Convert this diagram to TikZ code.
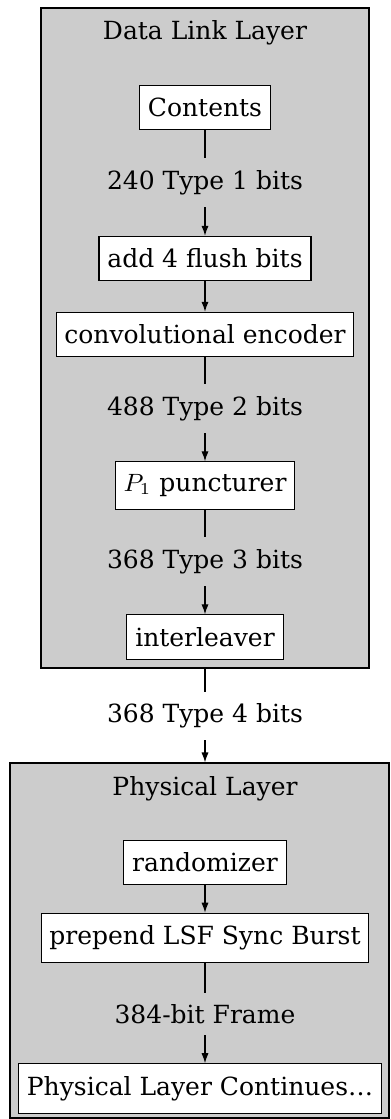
\documentclass[tikz,border=0pt]{standalone}
\usepackage{fontspec}
\setmainfont{DejaVu Serif}
\usetikzlibrary{arrows.meta}
\begin{document}
\begin{tikzpicture}[x=0.36pt,y=-0.36pt,
  every node/.style={font=\fontsize{9}{11}\selectfont},
  box/.style={draw, fill=white, inner xsep=3pt, inner ysep=4.5pt},
  lab/.style={inner sep=0pt},
  layer/.style={draw, fill=black!20, inner sep=0pt},
  conn/.style={draw, line width=0.45pt},
  arr/.style={conn, -{Latex[length=3.6pt,width=2.6pt]}}]
\useasboundingbox (0,0) rectangle (390,1119);
% layers
\node[layer, minimum width=328*0.36pt, minimum height=660*0.36pt] (dll) at (205,338) {};
\node[layer, minimum width=379*0.36pt, minimum height=355*0.36pt] (pl) at (199.5,940.5) {};
\node[anchor=base, inner sep=0pt] (dllt) at (205,39) {Data Link Layer};
\node[anchor=base, inner sep=0pt] (plt) at (205,795) {Physical Layer};
% boxes
\node[box] (contents) at (205,107.5) {Contents};
\node[lab] (l1) at (205,182.5) {240 Type 1 bits};
\node[box] (flush) at (205,258.5) {add 4 flush bits};
\node[box] (conv) at (205,334.5) {convolutional encoder};
\node[lab] (l2) at (205,408.5) {488 Type 2 bits};
\node[box] (punct) at (205,485.5) {$P_1$ puncturer};
\node[lab] (l3) at (205,561.5) {368 Type 3 bits};
\node[box] (inter) at (205,637) {interleaver};
\node[lab] (l4) at (205,716) {368 Type 4 bits};
\node[box] (rand) at (205,862.5) {randomizer};
\node[box] (prep) at (205,938) {prepend LSF Sync Burst};
\node[lab] (l5) at (205,1014) {384-bit Frame};
\node[box] (cont) at (200,1088.5) {Physical Layer Continues\ldots};
% connectors
\coordinate (c1a) at (205,158); \coordinate (c1b) at (205,207);
\coordinate (c2a) at (205,384); \coordinate (c2b) at (205,433);
\coordinate (c3a) at (205,537); \coordinate (c3b) at (205,586);
\coordinate (c4a) at (205,692); \coordinate (c4b) at (205,740);
\coordinate (c5a) at (205,993); \coordinate (c5b) at (205,1035);
\draw[conn] (contents.south) -- (c1a);
\draw[arr] (c1b) -- (flush.north);
\draw[arr] (flush.south) -- (conv.north);
\draw[conn] (conv.south) -- (c2a);
\draw[arr] (c2b) -- (punct.north);
\draw[conn] (punct.south) -- (c3a);
\draw[arr] (c3b) -- (inter.north);
\draw[conn] (dll.south) -- (c4a);
\draw[arr] (c4b) -- (pl.north -| c4b);
\draw[arr] (rand.south) -- (prep.north);
\draw[conn] (prep.south) -- (c5a);
\draw[arr] (c5b) -- (cont.north -| c5b);
\end{tikzpicture}
\end{document}
